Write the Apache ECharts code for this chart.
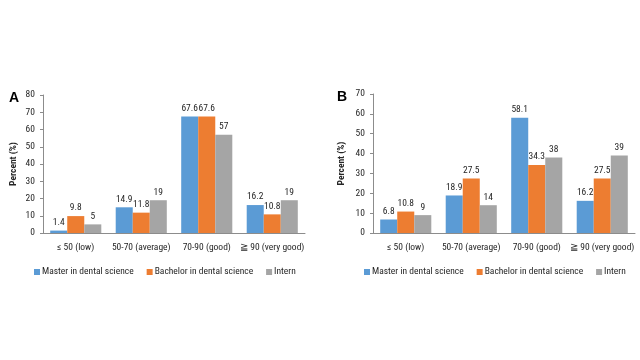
<!DOCTYPE html>
<html><head><meta charset="utf-8">
<script src="https://cdn.jsdelivr.net/npm/echarts@6/dist/echarts.min.js"></script>
<style>html,body{margin:0;padding:0;background:#fff}#c{width:640px;height:360px}</style>
</head><body><div id="c"></div>
<script>
const categories = ['≤ 50 (low)', '50-70 (average)', '70-90 (good)', '≧ 90 (very good)'];
const seriesNames = ['Master in dental science', 'Bachelor in dental science', 'Intern'];
const masterA = [1.4, 14.9, 67.6, 16.2];
const bachelorA = [9.8, 11.8, 67.6, 10.8];
const internA = [5, 19, 57, 19];
const masterB = [6.8, 18.9, 58.1, 16.2];
const bachelorB = [10.8, 27.5, 34.3, 27.5];
const internB = [9, 14, 38, 39];
const yTicksA = {min: 0, max: 80, interval: 10};
const yTicksB = {min: 0, max: 70, interval: 10};

const colors = ['#5B9BD5', '#ED7D31', '#A5A5A5'];
const FONT = '"Roboto Condensed","Liberation Sans",sans-serif';
const txt = '#262626';

function xAx(i) {
  return {
    type: 'category', gridIndex: i, data: categories,
    axisLine: {lineStyle: {color: '#8c8c8c', width: 1}},
    axisTick: {show: false},
    axisLabel: {color: txt, fontSize: 9.5, fontFamily: FONT, margin: 10, interval: 0}
  };
}
function yAx(i, t, gap) {
  return {
    type: 'value', gridIndex: i, min: t.min, max: t.max, interval: t.interval,
    name: 'Percent (%)', nameLocation: 'middle', nameGap: gap, nameRotate: 90,
    nameTextStyle: {color: txt, fontSize: 9.5, fontWeight: 'bold', fontFamily: FONT},
    axisLine: {show: true, lineStyle: {color: '#8c8c8c', width: 1}},
    axisTick: {show: true, length: 3, lineStyle: {color: '#8c8c8c'}},
    splitLine: {show: false},
    axisLabel: {color: txt, fontSize: 9.5, fontFamily: FONT, margin: 8}
  };
}
function bars(i, arrs) {
  return arrs.map((d, k) => ({
    name: seriesNames[k], type: 'bar', xAxisIndex: i, yAxisIndex: i, data: d,
    barGap: '0%', barCategoryGap: '22%',
    itemStyle: {color: colors[k]},
    label: {show: true, position: 'top', distance: 3, color: txt, fontSize: 9.5, fontFamily: FONT},
    animation: false
  }));
}
function legend(left) {
  return {
    left: left, top: 262, width: 300, itemWidth: 6, itemHeight: 6, itemGap: 13, icon: 'rect',
    data: seriesNames, textStyle: {color: txt, fontSize: 9.5, fontFamily: FONT, padding: [0,0,0,-3]}
  };
}

const chart = echarts.init(document.getElementById('c'), null, {renderer: 'canvas'});
chart.setOption({
  animation: false,
  color: colors,
  title: [
    {text: 'A', left: 4, top: 86, textStyle: {fontSize: 14, fontWeight: 'bold', color: '#000', fontFamily: '"Liberation Sans",sans-serif'}},
    {text: 'B', left: 332, top: 85, textStyle: {fontSize: 14, fontWeight: 'bold', color: '#000', fontFamily: '"Liberation Sans",sans-serif'}}
  ],
  grid: [
    {left: 43, top: 95, width: 262, height: 138},
    {left: 373, top: 94, width: 262, height: 139}
  ],
  xAxis: [xAx(0), xAx(1)],
  yAxis: [yAx(0, yTicksA, 24), yAx(1, yTicksB, 26)],
  legend: [legend(29), legend(359)],
  series: [...bars(0, [masterA, bachelorA, internA]), ...bars(1, [masterB, bachelorB, internB])]
});
</script></body></html>
